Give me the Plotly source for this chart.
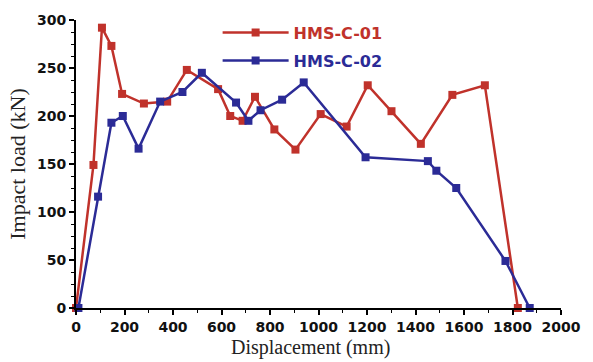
import plotly.graph_objects as go

# HMS-C-01 (red)
disp_c01 = [0, 72, 107, 146, 190, 280, 376, 457, 586, 636, 687, 738, 818, 905, 1009, 1116, 1203, 1301, 1422, 1552, 1686, 1822]
load_c01 = [0, 149, 292, 273, 223, 213, 215, 248, 228, 200, 195, 220, 186, 165, 202, 189, 232, 205, 171, 222, 232, 0]

# HMS-C-02 (blue)
disp_c02 = [10, 91, 146, 193, 258, 347, 439, 519, 660, 711, 761, 850, 939, 1194, 1451, 1486, 1568, 1771, 1871]
load_c02 = [0, 116, 193, 200, 166, 215, 225, 245, 214, 195, 206, 217, 235, 157, 153, 143, 125, 49, 0]

series_names = ["HMS-C-01", "HMS-C-02"]
x_ticks = [0, 200, 400, 600, 800, 1000, 1200, 1400, 1600, 1800, 2000]
y_ticks = [0, 50, 100, 150, 200, 250, 300]
x_title = "Displacement (mm)"
y_title = "Impact load (kN)"

RED = "#c0322b"
BLUE = "#2b2b96"

fig = go.Figure()
for name, xs, ys, col, grp in [
    (series_names[0], disp_c01, load_c01, RED, "a"),
    (series_names[1], disp_c02, load_c02, BLUE, "b"),
]:
    fig.add_trace(go.Scatter(
        x=xs, y=ys, name=f"<span style='color:{col}'>{name}</span>",
        mode="lines+markers",
        line=dict(color=col, width=2.5),
        marker=dict(symbol="square", size=8, color=col),
        cliponaxis=False, legendgroup=grp,
    ))

axis_common = dict(
    showline=True, linecolor="black", linewidth=1.8,
    ticks="outside", tickcolor="black", ticklen=5, tickwidth=1.5,
    showgrid=False, zeroline=False, mirror=False,
    ticklabeloverflow="allow",
    tickfont=dict(family="DejaVu Sans, sans-serif", size=14, color="#111", weight="bold"),
)

fig.update_xaxes(
    range=[0, 2000], tickvals=x_ticks, ticktext=[str(v) for v in x_ticks],
    minor=dict(dtick=100, ticks="outside", ticklen=3, tickcolor="black", tickwidth=1.2),
    **axis_common,
)
fig.update_yaxes(
    range=[0, 300], tickvals=y_ticks, ticktext=[str(v) for v in y_ticks],
    minor=dict(dtick=12.5, ticks="outside", ticklen=3, tickcolor="black", tickwidth=1.2),
    title=dict(text=y_title, standoff=5,
               font=dict(family="Liberation Serif, Times New Roman, serif", size=22, color="#222")),
    **axis_common,
)

fig.add_annotation(
    text=x_title, xref="paper", yref="paper", x=0.483, y=-0.138,
    xanchor="center", yanchor="middle", showarrow=False,
    font=dict(family="Liberation Serif, Times New Roman, serif", size=20, color="#222"),
)

fig.update_layout(
    width=593, height=362,
    margin=dict(l=76, r=20, t=16, b=54),
    paper_bgcolor="white", plot_bgcolor="white",
    showlegend=True,
    legend=dict(
        x=0.292, y=1.015, xanchor="left", yanchor="top",
        bgcolor="rgba(0,0,0,0)", itemwidth=66,
        traceorder="grouped", tracegroupgap=4,
        font=dict(family="DejaVu Sans, sans-serif", size=16, weight="bold"),
    ),
)

fig.write_html("out.html")
